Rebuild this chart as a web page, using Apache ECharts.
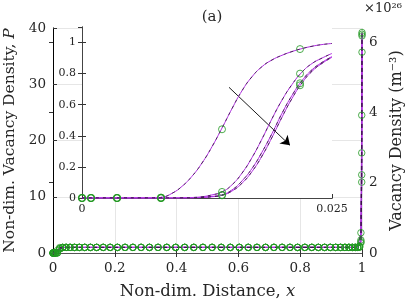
<!DOCTYPE html>
<html><head><meta charset="utf-8">
<script src="https://cdn.jsdelivr.net/npm/echarts@6/dist/echarts.min.js"></script>
<style>html,body{margin:0;padding:0;background:#fff}#c{width:407px;height:305px}</style>
</head><body><div id="c"></div>
<script>
// ---- data ----
const meshX = [0, 0.0009, 0.0035, 0.0079, 0.0140, 0.0218, 0.0313, 0.0424, 0.0552, 0.0695,
  0.0853, 0.1026, 0.1212, 0.1412, 0.1625, 0.1850, 0.2085, 0.2331, 0.2586, 0.2850,
  0.3121, 0.3399, 0.3682, 0.3970, 0.4262, 0.4556, 0.4852, 0.5148, 0.5444, 0.5738,
  0.6030, 0.6318, 0.6601, 0.6879, 0.7150, 0.7414, 0.7669, 0.7915, 0.8150, 0.8375,
  0.8588, 0.8788, 0.8974, 0.9147, 0.9305, 0.9448, 0.9576, 0.9687, 0.9782, 0.9860,
  0.9921, 0.9965, 0.9991, 1];
const curveA = [0, 0, 0, 0.003, 0.442, 0.958, 0.998, 1, 1, 1,
  1, 1, 1, 1, 1, 1, 1, 1, 1, 1,
  1, 1, 1, 1, 1, 1, 1, 1, 1, 1,
  1, 1, 1, 1, 1, 1, 1, 1, 1, 1,
  1, 1, 1, 1, 1, 1, 1, 1, 1, 1.02,
  1.2, 3.6, 24.5, 39.2];
const curveB = [0, 0, 0, 0, 0.039, 0.80, 0.985, 1, 1, 1,
  1, 1, 1, 1, 1, 1, 1, 1, 1, 1,
  1, 1, 1, 1, 1, 1, 1, 1, 1, 1,
  1, 1, 1, 1, 1, 1, 1, 1, 1, 1,
  1, 1, 1, 1, 1, 1, 1, 1, 1, 1.01,
  1.1, 2.3, 17.8, 38.6];
const curveC = [0, 0, 0, 0, 0.020, 0.738, 0.975, 1, 1, 1,
  1, 1, 1, 1, 1, 1, 1, 1, 1, 1,
  1, 1, 1, 1, 1, 1, 1, 1, 1, 1,
  1, 1, 1, 1, 1, 1, 1, 1, 1, 1,
  1, 1, 1, 1, 1, 1, 1, 1, 1, 1.01,
  1.05, 2.0, 13.9, 35.7];
const curveD = [0, 0, 0, 0, 0.017, 0.725, 0.972, 1, 1, 1,
  1, 1, 1, 1, 1, 1, 1, 1, 1, 1,
  1, 1, 1, 1, 1, 1, 1, 1, 1, 1,
  1, 1, 1, 1, 1, 1, 1, 1, 1, 1,
  1, 1, 1, 1, 1, 1, 1, 1, 1, 1.01,
  1.05, 1.8, 12.6, 38.9];
// inset (left boundary layer), finer reading of the solution curves
const insetX = [0, 0.007, 0.008, 0.009, 0.010, 0.011, 0.012, 0.013, 0.014, 0.015,
  0.016, 0.017, 0.018, 0.019, 0.020, 0.021, 0.022, 0.023, 0.024, 0.025];
const fineA = [0, 0, 0.005, 0.03, 0.075, 0.14, 0.225, 0.33, 0.45, 0.575,
  0.69, 0.78, 0.845, 0.888, 0.918, 0.942, 0.961, 0.976, 0.987, 0.994];
const fineB = [0, 0, 0, 0, 0.001, 0.003, 0.008, 0.02, 0.039, 0.085,
  0.16, 0.26, 0.38, 0.51, 0.63, 0.73, 0.81, 0.865, 0.90, 0.93];
const fineC = [0, 0, 0, 0, 0, 0.001, 0.004, 0.01, 0.02, 0.052,
  0.11, 0.19, 0.295, 0.415, 0.545, 0.66, 0.755, 0.825, 0.872, 0.91];
const fineD = [0, 0, 0, 0, 0, 0.001, 0.003, 0.008, 0.017, 0.045,
  0.095, 0.17, 0.27, 0.39, 0.52, 0.64, 0.74, 0.815, 0.866, 0.905];
const arrowStart = [0.0147, 0.712];
const arrowEnd = [0.0208, 0.339];
const xTicksMain = [0, 1, 0.2];      // min, max, interval
const yTicksLeft = [0, 40, 10];
const yTicksRight = [0, 6.4, 2];     // x10^26 m^-3
const xTicksInset = [0, 0.025, 0.025];
const yTicksInset = [0, 1.1, 0.2];

// ---- styling ----
const F = 'DejaVu Serif';
const MAG = '#b030e0';
const GREEN = '#229922';
const TXT = '#262626';

const mainCurves = [curveA, curveB, curveC, curveD];
const fineCurves = [fineA, fineB, fineC, fineD];

const series = [];
mainCurves.forEach(c => {
  const d = meshX.map((x, i) => [x, c[i]]);
  series.push({type: 'line', xAxisIndex: 0, yAxisIndex: 0, data: d, symbol: 'none',
    lineStyle: {color: MAG, width: 1}, z: 2});
  series.push({type: 'line', xAxisIndex: 0, yAxisIndex: 0, data: d, symbol: 'none',
    lineStyle: {color: '#000', width: 0.7, type: [4, 3]}, z: 2});
  series.push({type: 'scatter', xAxisIndex: 0, yAxisIndex: 0, data: d, symbol: 'circle', symbolSize: 6.5,
    itemStyle: {color: 'rgba(0,0,0,0)', borderColor: GREEN, borderWidth: 1}, z: 3});
});
fineCurves.forEach((c, k) => {
  const d = insetX.map((x, i) => [x, c[i]]);
  series.push({type: 'line', xAxisIndex: 2, yAxisIndex: 2, data: d, symbol: 'none', smooth: 0.5,
    lineStyle: {color: MAG, width: 1}, z: 5});
  const s = {type: 'line', xAxisIndex: 2, yAxisIndex: 2, data: d, symbol: 'none', smooth: 0.5,
    lineStyle: {color: '#000', width: 0.6, type: [3, 4]}, z: 5};
  if (k === 0) {
    s.markLine = {silent: true, symbol: ['none', 'arrow'], symbolSize: 9, animation: false,
      lineStyle: {color: '#000', width: 0.9, type: 'solid'}, label: {show: false},
      data: [[{coord: arrowStart}, {coord: arrowEnd}]]};
  }
  series.push(s);
  const m = meshX.map((x, i) => [x, mainCurves[k][i]]).filter(p => p[0] <= 0.025);
  series.push({type: 'scatter', xAxisIndex: 2, yAxisIndex: 2, data: m, symbol: 'circle', symbolSize: 7,
    itemStyle: {color: 'rgba(0,0,0,0)', borderColor: GREEN, borderWidth: 1}, z: 6});
});

const tick = {inside: true, length: 4, lineStyle: {color: '#333'}};
const lab = (sz) => ({fontFamily: F, fontSize: sz, color: TXT});

const option = {
  animation: false,
  backgroundColor: '#fff',
  title: {text: '(a)', left: 207, top: 5, textAlign: 'center',
    textStyle: {fontFamily: F, fontSize: 15, fontWeight: 'normal', color: TXT}},
  graphic: [{type: 'text', left: 364, top: 2,
    style: {text: '×10²⁶', fontFamily: F, fontSize: 13, fill: TXT}}],
  grid: [
    {left: 53, top: 28, width: 309, height: 225, show: false, z: 0, containLabel: false, outerBoundsMode: 'none'},
    {left: 82, top: 27, width: 250, height: 171, show: true, backgroundColor: '#fff', borderWidth: 0, z: 1,
      containLabel: false, outerBoundsMode: 'none'}
  ],
  xAxis: [
    {type: 'value', gridIndex: 0, position: 'bottom', min: xTicksMain[0], max: xTicksMain[1], interval: xTicksMain[2],
      axisLine: {lineStyle: {color: '#555'}}, axisTick: tick,
      splitLine: {show: true, lineStyle: {color: '#e6e6e6', width: 1}},
      axisLabel: Object.assign(lab(13.5), {margin: 8}),
      name: 'Non-dim. Distance, {i|x}', nameLocation: 'middle', nameGap: 30,
      nameTextStyle: {fontFamily: F, fontSize: 16.5, color: TXT,
        rich: {i: {fontFamily: F, fontSize: 16.5, fontStyle: 'italic', color: TXT}}}, z: 0},
    {type: 'value', gridIndex: 0, position: 'top', min: xTicksMain[0], max: xTicksMain[1], interval: xTicksMain[2],
      axisLine: {lineStyle: {color: '#555'}}, axisTick: tick, axisLabel: {show: false}, splitLine: {show: false}, z: 0},
    {type: 'value', gridIndex: 1, position: 'bottom', min: xTicksInset[0], max: xTicksInset[1], interval: xTicksInset[2],
      axisLine: {lineStyle: {color: '#444'}}, axisTick: tick, splitLine: {show: false},
      axisLabel: Object.assign(lab(11), {margin: 6}), z: 2},
    {type: 'value', gridIndex: 1, position: 'top', min: xTicksInset[0], max: xTicksInset[1], interval: xTicksInset[2],
      axisLine: {lineStyle: {color: '#444'}}, axisTick: {show: false}, axisLabel: {show: false}, splitLine: {show: false}, z: 2}
  ],
  yAxis: [
    {type: 'value', gridIndex: 0, position: 'left', min: yTicksLeft[0], max: yTicksLeft[1], interval: yTicksLeft[2],
      axisLine: {show: true, lineStyle: {color: '#888'}}, axisTick: tick,
      splitLine: {show: true, lineStyle: {color: '#e6e6e6', width: 1}},
      axisLabel: Object.assign(lab(13.5), {margin: 7}),
      name: 'Non-dim. Vacancy Density, {i|P}', nameLocation: 'middle', nameRotate: 90, nameGap: 31,
      nameTextStyle: {fontFamily: F, fontSize: 15.5, color: TXT,
        rich: {i: {fontFamily: F, fontSize: 15.5, fontStyle: 'italic', color: TXT}}}, z: 0},
    {type: 'value', gridIndex: 0, position: 'right', min: yTicksRight[0], max: yTicksRight[1], interval: yTicksRight[2],
      axisLine: {show: true, lineStyle: {color: '#000'}}, axisTick: tick, splitLine: {show: false},
      axisLabel: Object.assign(lab(13.5), {margin: 7, showMaxLabel: false}),
      name: 'Vacancy Density (m⁻³)', nameLocation: 'middle', nameRotate: 90, nameGap: 20,
      nameTextStyle: {fontFamily: F, fontSize: 16, color: TXT}, z: 0},
    {type: 'value', gridIndex: 1, position: 'left', min: yTicksInset[0], max: yTicksInset[1], interval: yTicksInset[2],
      axisLine: {show: true, lineStyle: {color: '#444'}}, axisTick: tick, splitLine: {show: false},
      axisLabel: Object.assign(lab(11), {margin: 6, showMaxLabel: false}), z: 2},
    {type: 'value', gridIndex: 1, position: 'right', min: yTicksInset[0], max: yTicksInset[1], interval: yTicksInset[2],
      axisLine: {show: true, lineStyle: {color: '#444'}}, axisTick: tick, splitLine: {show: false},
      axisLabel: {show: false}, z: 2}
  ],
  series: series
};
const chart = echarts.init(document.getElementById('c'), null, {renderer: 'canvas'});
chart.setOption(option);
</script></body></html>
